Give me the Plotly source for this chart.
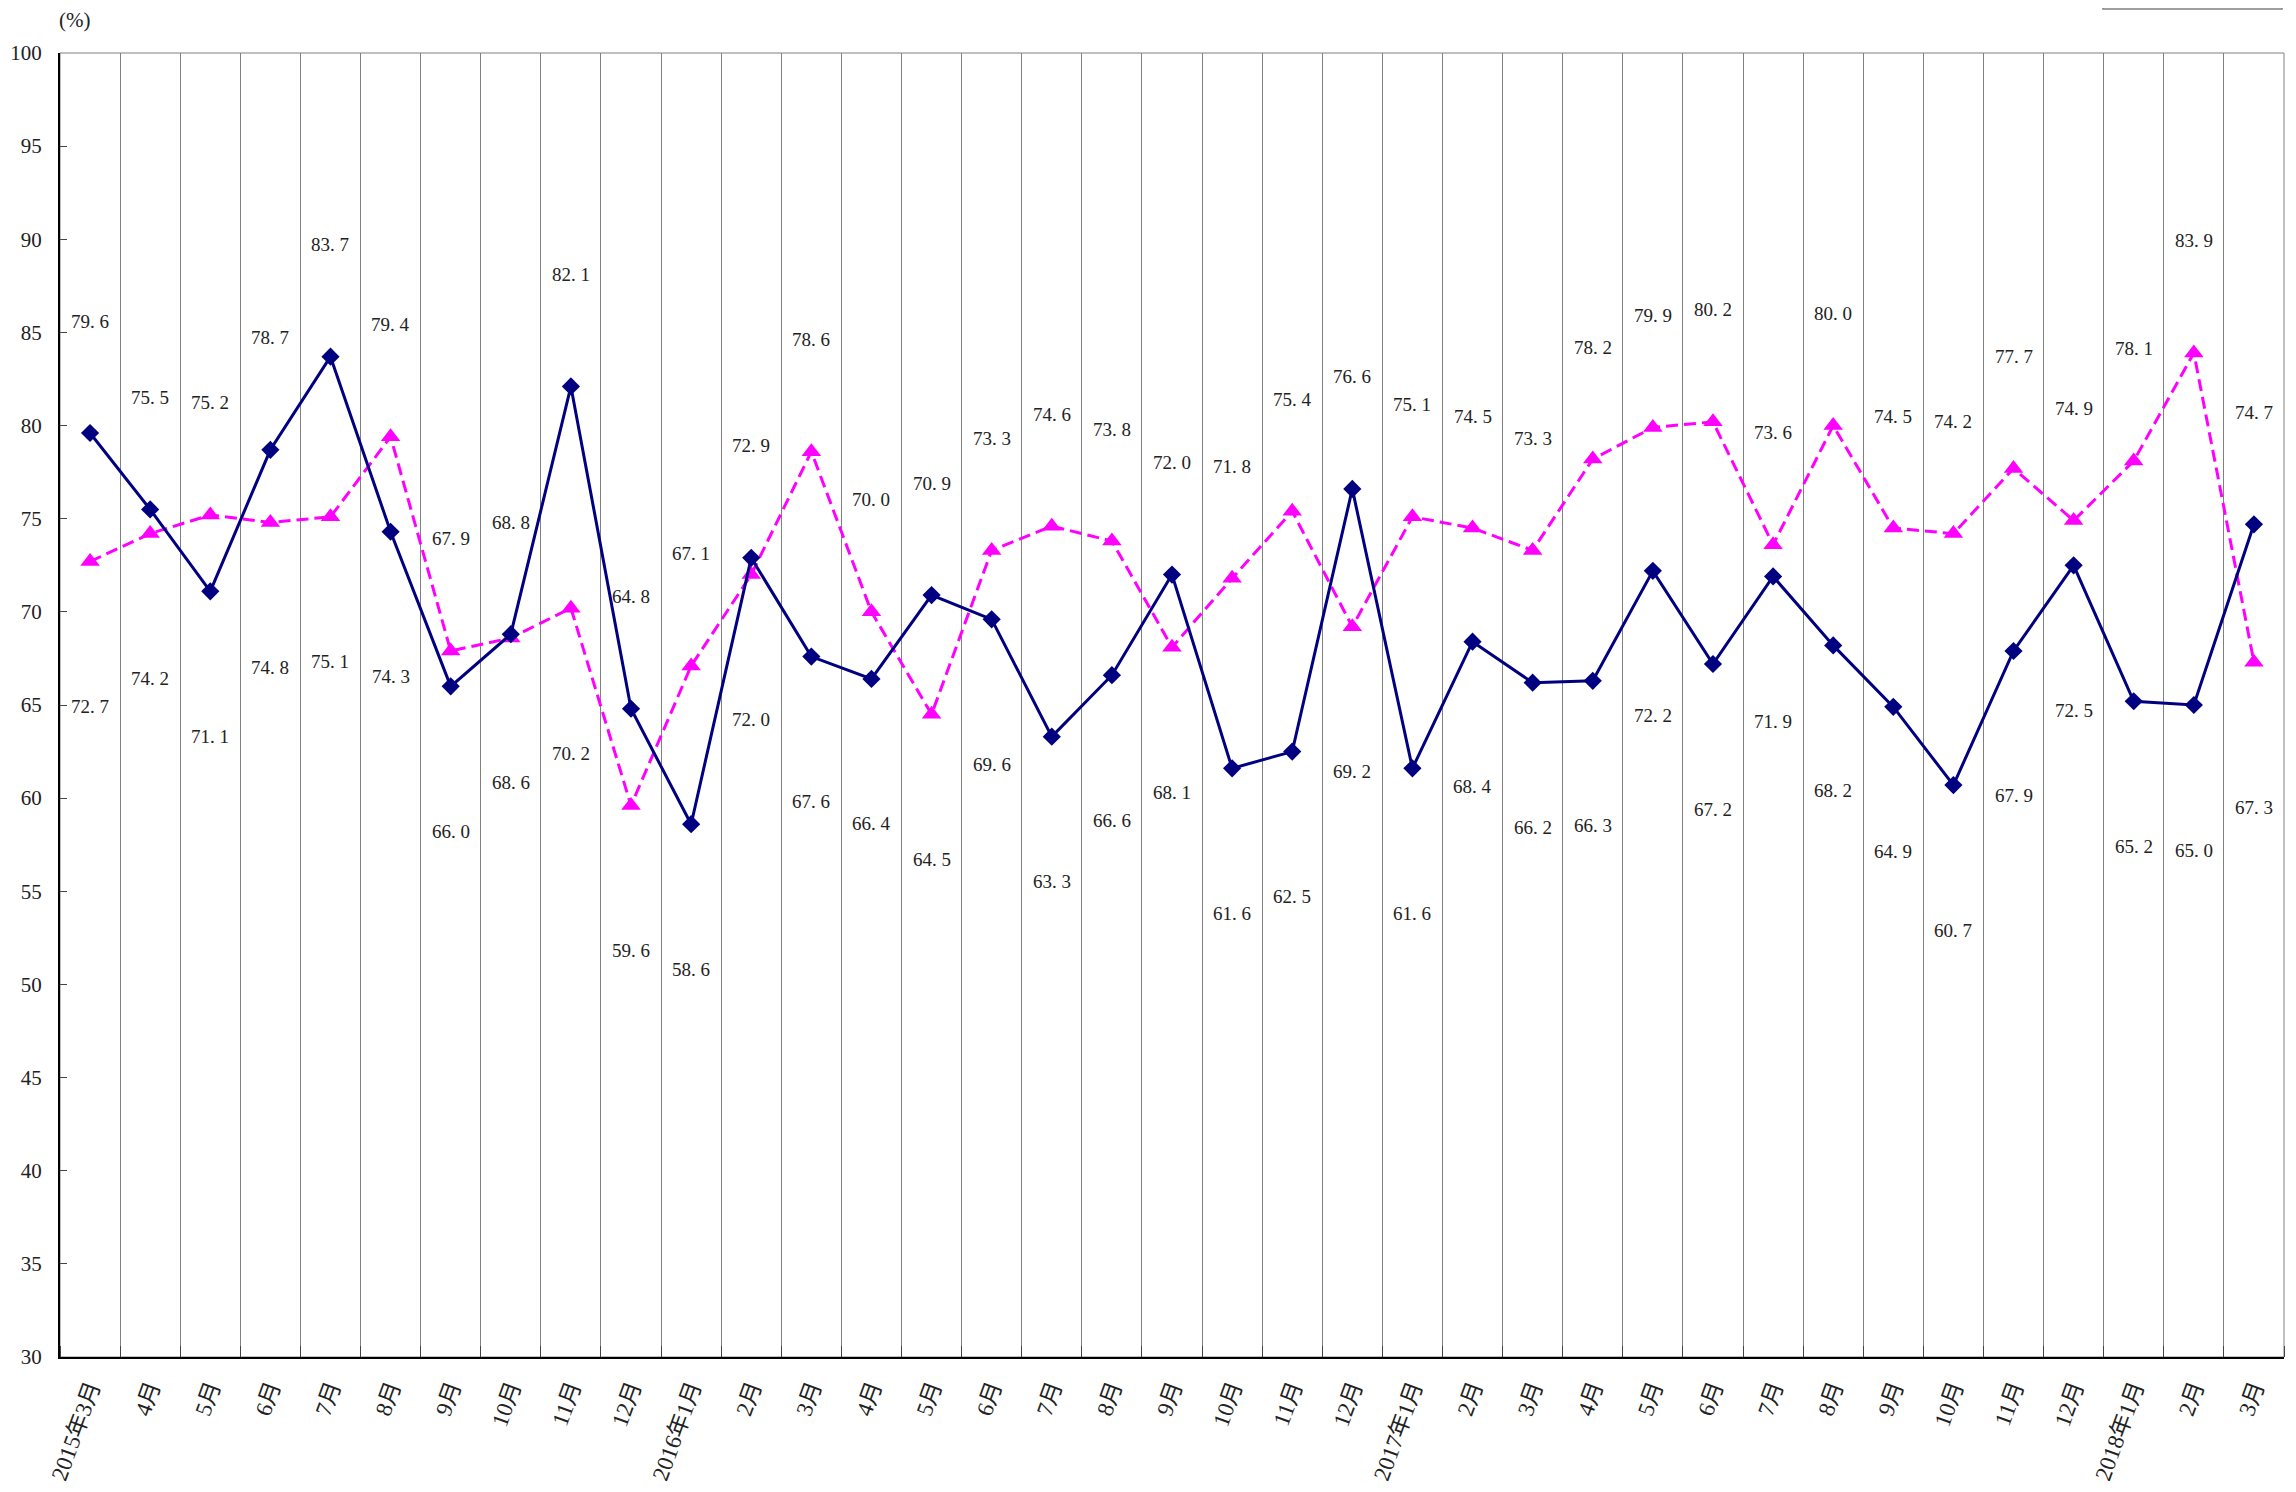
import plotly.graph_objects as go

months = ["2015年3月", "4月", "5月", "6月", "7月", "8月", "9月", "10月", "11月", "12月",
          "2016年1月", "2月", "3月", "4月", "5月", "6月", "7月", "8月", "9月", "10月", "11月", "12月",
          "2017年1月", "2月", "3月", "4月", "5月", "6月", "7月", "8月", "9月", "10月", "11月", "12月",
          "2018年1月", "2月", "3月"]

navy_series = [79.6, 75.5, 71.1, 78.7, 83.7, 74.3, 66.0, 68.8, 82.1, 64.8,
               58.6, 72.9, 67.6, 66.4, 70.9, 69.6, 63.3, 66.6, 72.0, 61.6, 62.5, 76.6,
               61.6, 68.4, 66.2, 66.3, 72.2, 67.2, 71.9, 68.2, 64.9, 60.7, 67.9, 72.5,
               65.2, 65.0, 74.7]

magenta_series = [72.7, 74.2, 75.2, 74.8, 75.1, 79.4, 67.9, 68.6, 70.2, 59.6,
                  67.1, 72.0, 78.6, 70.0, 64.5, 73.3, 74.6, 73.8, 68.1, 71.8, 75.4, 69.2,
                  75.1, 74.5, 73.3, 78.2, 79.9, 80.2, 73.6, 80.0, 74.5, 74.2, 77.7, 74.9,
                  78.1, 83.9, 67.3]

y_ticks = list(range(30, 101, 5))

# page body has an 8px margin; the figure is sized so the page fits the window
OFF = 8
W, H = 2296 - 2 * OFF, 1492 - 2 * OFF
L = 60 - OFF
T = 53 - OFF
R = W - (2284 - OFF)
B = H - (1357 - OFF)
pw, ph = W - L - R, H - T - B

x_idx = list(range(len(months)))

fig = go.Figure()
fig.add_trace(go.Scatter(
    x=x_idx, y=magenta_series, mode="lines+markers",
    line=dict(color="#FF00FF", width=3, dash="12px,6px"),
    marker=dict(symbol="triangle-up", size=17, color="#FF00FF"),
    showlegend=False, hoverinfo="skip"))
fig.add_trace(go.Scatter(
    x=x_idx, y=navy_series, mode="lines+markers",
    line=dict(color="#000080", width=3),
    marker=dict(symbol="diamond", size=14, color="#000080"),
    showlegend=False, hoverinfo="skip"))


def fmt(v):
    s = f"{v:.1f}"
    return s.replace(".", ". ")


label_font = dict(family="Liberation Serif, Noto Sans CJK JP", size=19, color="#222222")
annotations = []
for i, (a, b) in enumerate(zip(navy_series, magenta_series)):
    hi, lo = (a, b) if a >= b else (b, a)
    annotations.append(dict(x=i, y=hi, xref="x", yref="y", text=fmt(hi), showarrow=False,
                            yshift=112, font=label_font))
    annotations.append(dict(x=i, y=lo, xref="x", yref="y", text=fmt(lo), showarrow=False,
                            yshift=-145, font=label_font))

annotations.append(dict(x=(57 - OFF - L) / pw, y=1 + (T - (20 - OFF)) / ph, xref="paper", yref="paper",
                        text="(%)", showarrow=False, xanchor="left", yanchor="middle",
                        font=dict(family="Liberation Serif", size=21, color="#222222")))

fig.update_layout(
    width=W, height=H,
    margin=dict(l=L, r=R, t=T, b=B, autoexpand=False),
    paper_bgcolor="white", plot_bgcolor="white",
    annotations=annotations,
    shapes=[
        dict(type="rect", xref="paper", yref="paper", x0=0, x1=1, y0=0, y1=1,
             line=dict(color="#808080", width=1), layer="below"),
        dict(type="rect", xref="paper", yref="paper",
             x0=(2103 - OFF - L) / pw, x1=(2282 - OFF - L) / pw,
             y0=1 + (T - (9 - OFF)) / ph, y1=1 + (T + 5) / ph,
             line=dict(color="#808080", width=1.5), fillcolor="white"),
    ],
)

fig.update_xaxes(
    automargin=False,
    range=[-0.5, len(months) - 0.5],
    tickmode="array", tickvals=x_idx, ticktext=months,
    tickangle=-70, ticks="", showgrid=False, zeroline=False,
    showline=True, linecolor="black", linewidth=2,
    ticklabelstandoff=6,
    tickfont=dict(family="Liberation Serif, Noto Sans CJK JP", size=23, color="#222222"),
    minor=dict(tickmode="array", tickvals=[i - 0.5 for i in range(len(months) + 1)],
               showgrid=True, gridcolor="#808080", gridwidth=1,
               ticks="inside", ticklen=11, tickcolor="#444444"),
)
fig.update_yaxes(
    automargin=False,
    range=[30, 100], tickmode="array", tickvals=y_ticks,
    ticks="inside", ticklen=7, tickcolor="#444444",
    showgrid=False, zeroline=False,
    showline=True, linecolor="black", linewidth=2,
    ticklabelstandoff=12,
    tickfont=dict(family="Liberation Serif", size=21, color="#222222"),
)

fig.write_html("out.html")
